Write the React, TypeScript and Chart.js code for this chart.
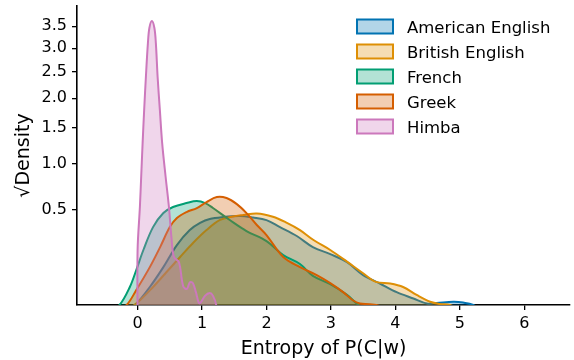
import React, { useEffect, useRef } from "react";
import { Chart, registerables } from "chart.js";

Chart.register(...registerables);

const seriesNames = ["American English", "British English", "French", "Greek", "Himba"];
const seriesColors = ["#0173b2", "#de8f05", "#029e73", "#d55e00", "#cc78bc"];

const americanX = [-0.25, -0.04, 0.19, 0.4, 0.61, 0.81, 0.97, 1.12, 1.33, 1.59, 1.79, 2.0, 2.21, 2.47, 2.72, 2.99, 3.25, 3.5, 3.76, 4.02, 4.28, 4.49, 4.64, 4.9, 5.05, 5.21, 5.35, 5.5];
const americanDensity = [0.002, 0.01, 0.046, 0.116, 0.231, 0.332, 0.386, 0.418, 0.434, 0.442, 0.43, 0.409, 0.354, 0.29, 0.219, 0.179, 0.139, 0.084, 0.056, 0.033, 0.02, 0.012, 0.0127, 0.0146, 0.0134, 0.01, 0.004, 0.001];

const britishX = [-0.25, -0.02, 0.24, 0.45, 0.66, 0.86, 1.07, 1.28, 1.48, 1.64, 1.85, 2.1, 2.31, 2.52, 2.73, 2.99, 3.25, 3.5, 3.7, 3.92, 4.12, 4.33, 4.54, 4.69, 4.85, 5.0, 5.2];
const britishDensity = [0.002, 0.012, 0.046, 0.096, 0.164, 0.244, 0.332, 0.41, 0.438, 0.451, 0.465, 0.437, 0.389, 0.332, 0.263, 0.202, 0.141, 0.091, 0.061, 0.056, 0.046, 0.027, 0.0146, 0.0113, 0.01, 0.005, 0.001];

const frenchX = [-0.5, -0.28, -0.12, -0.02, 0.09, 0.24, 0.4, 0.55, 0.76, 0.92, 1.05, 1.17, 1.43, 1.69, 2.0, 2.26, 2.52, 2.72, 2.99, 3.25, 3.4, 3.55, 3.75];
const frenchDensity = [0.001, 0.01, 0.046, 0.104, 0.202, 0.354, 0.468, 0.522, 0.559, 0.578, 0.559, 0.513, 0.41, 0.325, 0.256, 0.174, 0.13, 0.081, 0.054, 0.027, 0.012, 0.004, 0.0005];

const greekX = [-0.4, -0.17, -0.02, 0.19, 0.35, 0.5, 0.61, 0.76, 0.92, 1.07, 1.23, 1.38, 1.54, 1.69, 1.85, 2.0, 2.26, 2.52, 2.78, 2.99, 3.19, 3.34, 3.45, 3.6, 3.75, 3.9, 4.1];
const greekDensity = [0.001, 0.01, 0.038, 0.116, 0.219, 0.354, 0.426, 0.477, 0.513, 0.569, 0.618, 0.608, 0.549, 0.468, 0.37, 0.296, 0.164, 0.116, 0.084, 0.057, 0.033, 0.017, 0.012, 0.011, 0.009, 0.003, 0.0005];

const himbaX = [0, 0, 0.036, 0.056, 0.078, 0.102, 0.129, 0.16, 0.183, 0.222, 0.261, 0.284, 0.311, 0.346, 0.382, 0.435, 0.486, 0.525, 0.564, 0.641, 0.708, 0.766, 0.812, 0.859, 0.905, 0.952, 0.983, 1.045, 1.12, 1.17, 1.22, 1.22];
const himbaDensity = [0, 0.2, 0.525, 0.837, 1.27, 1.79, 2.4, 3.105, 3.46, 3.625, 3.46, 3.105, 2.4, 1.79, 1.27, 0.837, 0.525, 0.283, 0.164, 0.139, 0.048, 0.041, 0.06, 0.057, 0.033, 0.0126, 0.014, 0.025, 0.031, 0.025, 0.01, 0];

const xTicks = [0, 1, 2, 3, 4, 5, 6];
const yTickValues = [0.5, 1.0, 1.5, 2.0, 2.5, 3.0, 3.5];
const yTickLabels = ["0.5", "1.0", "1.5", "2.0", "2.5", "3.0", "3.5"];

const FONT = "'DejaVu Sans', sans-serif";

function rgba(hex: string, a: number) {
  const n = parseInt(hex.slice(1), 16);
  return `rgba(${(n >> 16) & 255},${(n >> 8) & 255},${n & 255},${a})`;
}

function zeroPad(s: any) {
  s.paddingTop = 0;
  s.paddingBottom = 0;
  s.paddingLeft = 0;
  s.paddingRight = 0;
}

export default function App() {
  const ref = useRef<HTMLCanvasElement | null>(null);

  useEffect(() => {
    document.body.style.margin = "0";
    const xs = [americanX, britishX, frenchX, greekX, himbaX];
    const ds = [americanDensity, britishDensity, frenchDensity, greekDensity, himbaDensity];

    const datasets = seriesNames.map((name, i) => ({
      label: name,
      data: xs[i].map((x, j) => ({ x, y: Math.sqrt(ds[i][j]) })),
      borderColor: seriesColors[i],
      backgroundColor: rgba(seriesColors[i], 0.3),
      borderWidth: 2,
      fill: "origin",
      pointRadius: 0,
      tension: 0.35,
      order: seriesNames.length - i,
      clip: 0,
    }));

    const legendPlugin = {
      id: "kdeLegend",
      afterDraw(chart: any) {
        const ctx = chart.ctx;
        ctx.save();
        seriesNames.forEach((name, i) => {
          const top = 19.5 + 25 * i;
          ctx.fillStyle = "#fff";
          ctx.fillRect(357, top, 36, 14);
          ctx.fillStyle = rgba(seriesColors[i], 0.3);
          ctx.fillRect(357, top, 36, 14);
          ctx.strokeStyle = seriesColors[i];
          ctx.lineWidth = 2;
          ctx.strokeRect(357, top, 36, 14);
          ctx.fillStyle = "#000";
          ctx.font = `16.5px ${FONT}`;
          ctx.textBaseline = "alphabetic";
          ctx.textAlign = "left";
          ctx.fillText(name, 407, 32.8 + 25 * i);
        });
        ctx.restore();
      },
    };

    const chart = new Chart(ref.current as HTMLCanvasElement, {
      type: "line",
      data: { datasets: datasets as any },
      plugins: [legendPlugin],
      options: {
        animation: false,
        responsive: false,
        devicePixelRatio: 1,
        layout: { padding: { top: 6, right: 4, left: 0, bottom: 0 } },
        plugins: {
          legend: { display: false },
          tooltip: { enabled: false },
        },
        scales: {
          x: {
            type: "linear",
            min: -0.94,
            max: 6.71,
            afterBuildTicks: (s: any) => {
              s.ticks = xTicks.map((v) => ({ value: v }));
            },
            afterFit: (s: any) => {
              s.height = 55;
              zeroPad(s);
            },
            ticks: {
              autoSkip: false,
              maxRotation: 0,
              padding: 4,
              color: "#000",
              font: { family: FONT, size: 16 },
              callback: (v: any) => String(v),
            },
            grid: {
              drawOnChartArea: false,
              drawTicks: true,
              tickLength: 5,
              color: "#000",
              lineWidth: 1.3,
            },
            border: { display: true, color: "#000", width: 1.6 },
            title: {
              display: true,
              text: "Entropy of P(C|w)",
              color: "#000",
              font: { family: FONT, size: 19 },
              padding: { top: 0, bottom: 0 },
            },
          },
          y: {
            type: "linear",
            min: 0.1,
            max: 2.0,
            afterBuildTicks: (s: any) => {
              s.ticks = yTickValues.map((v) => ({ value: Math.sqrt(v) }));
            },
            afterFit: (s: any) => {
              s.width = 77;
              zeroPad(s);
            },
            ticks: {
              autoSkip: false,
              padding: 5,
              color: "#000",
              font: { family: FONT, size: 16 },
              callback: (_v: any, idx: number) => yTickLabels[idx],
            },
            grid: {
              drawOnChartArea: false,
              drawTicks: true,
              tickLength: 5,
              color: "#000",
              lineWidth: 1.3,
            },
            border: { display: true, color: "#000", width: 1.6 },
            title: {
              display: true,
              text: "√Density",
              color: "#000",
              font: { family: FONT, size: 19 },
              padding: { top: 13, bottom: 0 },
            },
          },
        },
      } as any,
    });

    return () => chart.destroy();
  }, []);

  return (
    <div style={{ width: 574, height: 360 }}>
      <canvas ref={ref} width={574} height={360} />
    </div>
  );
}
